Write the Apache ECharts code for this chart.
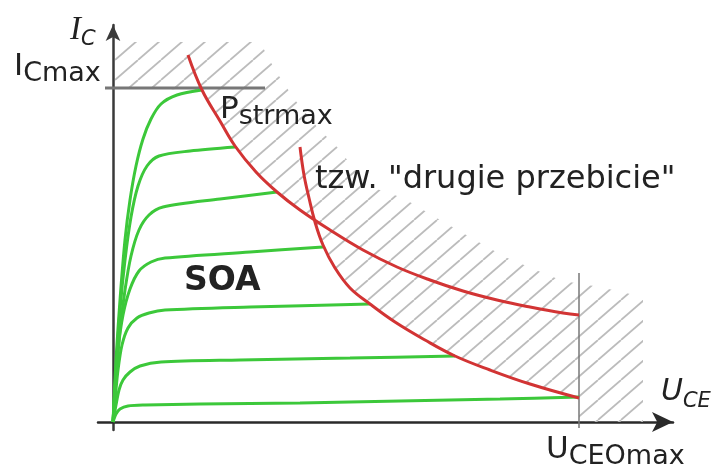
<!DOCTYPE html>
<html>
<head>
<meta charset="utf-8">
<script src="https://cdn.jsdelivr.net/npm/echarts@6/dist/echarts.min.js"></script>
<style>
  html, body { margin: 0; background: #fff; }
  #chart { width: 714px; height: 472px; }
</style>
</head>
<body>
<div id="chart"></div>
<script>
// units: drawing units from the axes crossing (U_CE to the right, I_C up)
const icMax = 334;
const uceoMax = 466;
const crossX = 202; // where the two limit curves cross

// output characteristics I_C(U_CE), one per base current
const curve1 = [[0, 0], [3, 62], [7, 122], [12, 182], [17, 222], [23, 256], [30, 283], [38, 303], [48, 318], [64, 327], [89, 332]];
const curve2 = [[0, 0], [3, 52], [7, 112], [12, 162], [18, 205], [25, 236], [34, 256], [46, 266], [77, 271], [122, 275]];
const curve3 = [[0, 0], [3, 42], [7, 92], [12, 132], [18, 166], [26, 192], [36, 207], [50, 215], [107, 223], [164, 230]];
const curve4 = [[0, 0], [2, 32], [5, 72], [10, 107], [17, 133], [26, 151], [38, 160], [52, 164], [137, 170], [210, 175]];
const curve5 = [[0, 0], [2, 22], [5, 52], [9, 77], [15, 94], [24, 104], [36, 109], [52, 112], [137, 115], [257, 118]];
const curve6 = [[0, 0], [3, 17], [6, 32], [10, 42], [17, 50], [27, 56], [48, 60], [127, 62], [237, 64], [342, 66]];
const curve7 = [[0, 0], [3, 8], [7, 13], [15, 16], [32, 17], [87, 18], [187, 19], [287, 21], [387, 23], [466, 25]];
const outputCurves = [curve1, curve2, curve3, curve4, curve5, curve6, curve7];

// max power hyperbola
const pstrMax = [[75, 367], [89, 332], [107, 301], [122, 276], [143, 250], [164, 230], [187, 212], [217, 192],
  [250, 172], [284, 155], [317, 142], [350, 131], [384, 122], [417, 115], [450, 109], [466, 107]];

// second breakdown limit
const secondBreakdown = [[187, 275], [191, 247], [196, 224], [202, 200], [210, 177], [222, 154], [237, 134],
  [257, 118], [282, 100], [312, 82], [342, 66], [377, 52], [417, 38], [466, 24]];

// outer edge of the hatched (forbidden) band
const hatchOuter = [[530, 0], [530, 125], [487, 135], [450, 141], [430, 149], [392, 165], [362, 182], [327, 202],
  [290, 224], [252, 237], [227, 272], [205, 294], [182, 322], [162, 352], [147, 380], [2, 380]];

const icMaxLine = [[-8, icMax], [152, icMax]];
const uceoMaxLine = [[uceoMax, -6], [uceoMax, 149]];

// text labels: anchor (top-left), main text, subscript
const labels = [
  { at: [-99, 375], main: 'I', sub: 'Cmax', kind: 'sans' },
  { at: [-43, 412], main: 'I', sub: 'C', kind: 'serif' },
  { at: [107, 332], main: 'P', sub: 'strmax', kind: 'sans' },
  { at: [433, -8], main: 'U', sub: 'CEOmax', kind: 'sans' },
  { at: [548, 50], main: 'U', sub: 'CE', kind: 'italic' },
  { at: [202, 262], main: 'tzw. "drugie przebicie"', sub: '', kind: 'plain' },
  { at: [71, 161], main: 'SOA', sub: '', kind: 'bold' }
];

const hatchPolygon = [[2, icMax]]
  .concat(pstrMax.filter(p => p[1] <= icMax && p[0] < crossX))
  .concat(secondBreakdown.filter(p => p[0] >= crossX))
  .concat([[uceoMax, 0]])
  .concat(hatchOuter);

const hatchTile = document.createElement('canvas');
hatchTile.width = 23;
hatchTile.height = 20;
const ctx = hatchTile.getContext('2d');
ctx.strokeStyle = '#bcbcbc';
ctx.lineWidth = 1.8;
[-23, 0, 23].forEach(dx => {
  ctx.beginPath();
  ctx.moveTo(dx, 20);
  ctx.lineTo(dx + 23, 0);
  ctx.stroke();
});

const textColor = '#222';
const rich = {
  sansMain: { fontFamily: 'DejaVu Sans', fontSize: 31, lineHeight: 40, color: textColor },
  sansSub: { fontFamily: 'DejaVu Sans', fontSize: 27, lineHeight: 26, verticalAlign: 'bottom', color: textColor },
  serifMain: { fontFamily: 'Liberation Serif', fontStyle: 'italic', fontSize: 33, lineHeight: 40, color: textColor },
  serifSub: { fontFamily: 'DejaVu Sans', fontStyle: 'italic', fontSize: 21, lineHeight: 22, verticalAlign: 'bottom', color: textColor },
  italicMain: { fontFamily: 'DejaVu Sans', fontStyle: 'italic', fontSize: 30, lineHeight: 40, color: textColor },
  italicSub: { fontFamily: 'DejaVu Sans', fontStyle: 'italic', fontSize: 21, lineHeight: 22, verticalAlign: 'bottom', color: textColor },
  plainMain: { fontFamily: 'DejaVu Sans', fontSize: 32, lineHeight: 40, color: textColor },
  boldMain: { fontFamily: 'DejaVu Sans', fontWeight: 'bold', fontSize: 33, lineHeight: 40, color: textColor }
};

const series = [];

series.push({
  type: 'custom',
  silent: true,
  z: 1,
  data: [0],
  renderItem: (params, api) => ({
    type: 'polygon',
    shape: { points: hatchPolygon.map(p => api.coord(p)) },
    style: { fill: { image: hatchTile, repeat: 'repeat' }, stroke: null }
  })
});

series.push({
  type: 'line', data: icMaxLine, symbol: 'none', z: 3,
  lineStyle: { color: '#777', width: 3 }
});
series.push({
  type: 'line', data: uceoMaxLine, symbol: 'none', z: 3,
  lineStyle: { color: '#777', width: 1.5 }
});

outputCurves.forEach(c => {
  series.push({
    type: 'line', data: c, symbol: 'none', smooth: 0.3, z: 4,
    lineStyle: { color: '#3cc83a', width: 3 }
  });
});

[pstrMax, secondBreakdown].forEach(c => {
  series.push({
    type: 'line', data: c, symbol: 'none', smooth: 0.4, z: 5,
    lineStyle: { color: '#d23434', width: 3 }
  });
});

series.push({
  type: 'scatter',
  symbolSize: 0,
  clip: false,
  silent: true,
  z: 6,
  itemStyle: { opacity: 1 },
  data: labels.map(l => ({
    value: l.at,
    label: {
      show: true,
      position: [0, 0],
      color: textColor,
      formatter: '{' + l.kind + 'Main|' + l.main + '}' + (l.sub ? '{' + l.kind + 'Sub|' + l.sub + '}' : ''),
      rich: rich
    }
  }))
});

const chart = echarts.init(document.getElementById('chart'));
chart.setOption({
  animation: false,
  backgroundColor: '#fff',
  grid: { left: 98, right: 41, top: 25, bottom: 42 },
  xAxis: {
    type: 'value', min: -15, max: 560,
    axisLine: { onZero: true, symbol: ['none', 'arrow'], symbolSize: [15, 21], lineStyle: { color: '#2a2a2a', width: 2.5 } },
    axisTick: { show: false }, axisLabel: { show: false }, splitLine: { show: false }
  },
  yAxis: {
    type: 'value', min: -8, max: 397,
    axisLine: { onZero: true, symbol: ['none', 'arrow'], symbolSize: [11, 16], lineStyle: { color: '#3a3a3a', width: 2.5 } },
    axisTick: { show: false }, axisLabel: { show: false }, splitLine: { show: false }
  },
  series: series
});
</script>
</body>
</html>
